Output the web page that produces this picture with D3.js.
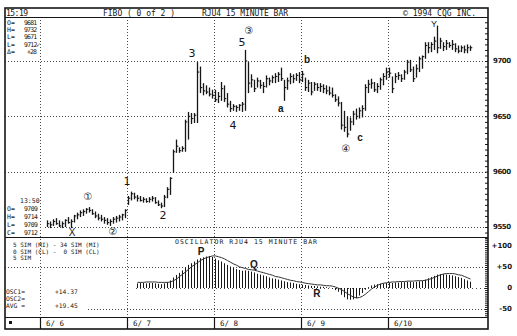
<!DOCTYPE html>
<html>
<head>
<meta charset="utf-8">
<script src="https://cdn.jsdelivr.net/npm/d3@7"></script>
<style>
body { margin: 0; background: #fff; }
svg { display: block; font-family: 'DejaVu Sans Mono', monospace; }
</style>
</head>
<body>
<svg width="517" height="336"></svg>
<script>
// 15 minute bars, 6/6 .. 6/10, first bar sits in slot 2
const firstBar = 2
const highs = [
  9556,9555,9557,9558,9556,9555,9557,9559,9557,9561,9563,9565,9566,9567,9568,9566,9564,9562,9561,9559,9558,9557,9559,9560,9561,9562,9566,
  9578,9582,9581,9579,9578,9577,9576,9577,9578,9577,9574,9572,9579,9586,9595,9620,9629,9622,9623,9647,9654,9653,9653,9699,9695,9680,9678,9676,9674,
  9674,9672,9681,9678,9671,9664,9661,9660,9661,9663,9710,9699,9688,9683,9685,9683,9681,9687,9685,9687,9689,9690,9694,9683,9685,9689,9688,9689,9690,
  9691,9685,9683,9681,9681,9680,9680,9679,9678,9677,9676,9670,9668,9663,9655,9650,9649,9655,9657,9658,9660,9679,9683,9684,9681,9680,9685,9689,9694,
  9694,9686,9689,9690,9688,9692,9701,9701,9695,9697,9704,9705,9717,9717,9717,9722,9732,9721,9717,9719,9717,9719,9716,9714,9714,9714,9715,9714
]
const lows = [
  9550,9549,9551,9552,9550,9549,9550,9553,9549,9554,9557,9559,9560,9562,9563,9561,9558,9556,9555,9553,9552,9551,9553,9554,9555,9556,9558,
  9570,9574,9575,9573,9573,9572,9572,9572,9573,9571,9569,9567,9568,9576,9579,9599,9617,9617,9618,9618,9629,9643,9644,9644,9671,9669,9670,9668,9666,
  9663,9662,9664,9663,9658,9654,9655,9654,9655,9654,9655,9671,9676,9672,9676,9675,9671,9676,9678,9680,9680,9681,9682,9664,9674,9679,9680,9682,9680,
  9681,9673,9672,9669,9673,9673,9672,9671,9670,9669,9667,9663,9659,9638,9636,9631,9637,9642,9647,9648,9649,9655,9671,9675,9672,9671,9674,9678,9683,
  9685,9671,9680,9683,9681,9683,9688,9690,9681,9685,9690,9693,9702,9707,9708,9710,9707,9711,9709,9710,9712,9710,9708,9707,9708,9707,9707,9709
]
const closes = [
  9553,9552,9555,9553,9551,9553,9556,9554,9555,9560,9561,9563,9564,9566,9565,9562,9560,9558,9557,9556,9554,9555,9557,9558,9559,9561,9565,
  9576,9580,9577,9576,9574,9575,9573,9575,9576,9572,9570,9569,9577,9584,9594,9618,9623,9619,9621,9645,9650,9648,9651,9690,9676,9673,9672,9670,9669,
  9665,9668,9675,9666,9661,9657,9659,9658,9660,9661,9700,9680,9683,9675,9682,9678,9677,9684,9682,9685,9686,9688,9684,9676,9682,9686,9684,9687,9683,
  9688,9676,9680,9672,9679,9676,9677,9675,9673,9671,9669,9665,9662,9642,9640,9634,9645,9652,9650,9655,9657,9676,9679,9680,9674,9677,9683,9686,9690,
  9689,9675,9686,9687,9684,9690,9699,9692,9684,9693,9702,9704,9714,9712,9715,9718,9712,9718,9713,9716,9714,9715,9711,9709,9712,9710,9712,9712
]

// oscillator (5 - 34) and its 5 bar average, from slot 32
const oscStart = 32
const osc = [
  11,12,12,11,12,12,11,10,9,11,
  14,18,25,31,36,42,49,55,59,63,
  68,71,73,75,76,74,70,66,63,59,
  55,51,48,45,43,41,42,41,39,37,
  34,32,30,28,25,23,22,20,18,16,
  14,13,12,10,9,8,7,6,5,5,
  4,3,3,2,1,-2,-5,-9,-16,-22,
  -27,-28,-27,-24,-18,-12,-4,2,6,8,
  9,10,11,12,13,12,13,13,14,14,
  15,15,14,15,16,17,20,23,26,29,
  32,33,33,32,31,30,28,26,24,21,
  18,15
]
const oscAvg = [
  11,11,11,12,12,12,12,11,11,11,
  11,12,15,19,25,30,36,42,48,53,
  58,63,67,70,72,74,74,72,70,67,
  63,59,55,52,48,46,44,42,41,40,
  38,36,34,32,30,28,25,24,22,20,
  18,16,15,13,12,11,9,8,7,6,
  5,5,4,3,3,2,0,-3,-6,-11,
  -16,-20,-24,-26,-25,-22,-17,-11,-5,0,
  4,7,9,10,11,12,12,13,13,13,
  14,14,14,15,15,15,16,18,20,23,
  26,29,31,32,32,32,31,29,28,25,
  22,19
]

const days = ['6/ 6', '6/ 7', '6/ 8', '6/ 9', '6/10']
const barsPerDay = 29
const priceTicks = [9550, 9600, 9650, 9700]
const oscTicks = [100, 50, 0, -50]
const oscGrid = [50, -50]

const waveLabels = [
  { t: 'X', i: 10.2, p: 9545 }, { t: '\u2460', i: 15.5, p: 9578 }, { t: '\u2461', i: 23.8, p: 9546 },
  { t: '1', i: 28.5, p: 9591 }, { t: '2', i: 40.5, p: 9561 }, { t: '3', i: 50.2, p: 9707 },
  { t: '4', i: 63.8, p: 9642 }, { t: '5', i: 66.8, p: 9717 }, { t: '\u2462', i: 69.2, p: 9728 },
  { t: 'a', i: 79.8, p: 9657 }, { t: 'b', i: 88.5, p: 9701 }, { t: 'c', i: 106.2, p: 9631 },
  { t: '\u2463', i: 101.5, p: 9621 }, { t: 'Y', i: 130.8, p: 9734 }
]
const oscLabels = [
  { t: 'P', i: 53.2, v: 88 }, { t: 'Q', i: 70.8, v: 57 }, { t: 'R', i: 91.8, v: -12 }
]

const topInfo = [['O=', '9681'], ['H=', '9732'], ['L=', '9671'], ['L=', '9712\u2713'], ['\u0394=', '+28']]
const lastBarInfo = [['O=', '9709'], ['H=', '9714'], ['L=', '9709'], ['C=', '9712']]
const oscInfo = ['5 SIM (MI) - 34 SIM (MI)', '0 SIM (CL) -  0 SIM (CL)', '5 SIM']
const oscValues = [['OSC1=', '+14.37'], ['OSC2=', ''], ['AVG =', '+19.45']]

// frame
const frameL = 5, frameR = 488, frameTop = 8, headBottom = 17, oscTop = 237, dateTop = 317, frameBottom = 329

const svg = d3.select('svg')

const x = d3.scaleLinear().domain([0, barsPerDay * 5]).range([40, 475])
const yPrice = d3.scaleLinear().domain([9550, 9700]).range([227, 61])
const yOsc = d3.scaleLinear().domain([-50, 100]).range([309, 246])

const ink = '#161616'
const dots = '#4a4a4a'

// grid
const grid = svg.append('g')
    .attr('stroke', dots)
    .attr('stroke-width', 1)
    .attr('stroke-dasharray', '1,2')

grid.selectAll('.vgrid')
    .data(days)
    .enter().append('line')
        .attr('x1', (d, k) => Math.round(x(k * barsPerDay)) + .5)
        .attr('x2', (d, k) => Math.round(x(k * barsPerDay)) + .5)
        .attr('y1', headBottom)
        .attr('y2', dateTop)

grid.selectAll('.hgrid')
    .data(priceTicks)
    .enter().append('line')
        .attr('x1', d => d === 9550 ? 45 : frameL)
        .attr('x2', frameR)
        .attr('y1', d => Math.round(yPrice(d)) + .5)
        .attr('y2', d => Math.round(yPrice(d)) + .5)

grid.selectAll('.ogrid')
    .data(oscGrid)
    .enter().append('line')
        .attr('x1', d => d < 0 ? 88 : frameL)
        .attr('x2', frameR)
        .attr('y1', d => Math.round(yOsc(d)) + .5)
        .attr('y2', d => Math.round(yOsc(d)) + .5)

grid.append('line')
    .attr('stroke-dasharray', '1,3')
    .attr('x1', x(oscStart))
    .attr('x2', frameR)
    .attr('y1', Math.round(yOsc(0)) + .5)
    .attr('y2', Math.round(yOsc(0)) + .5)

// price bars
const bars = highs.map((h, k) => ({ i: firstBar + k, h: h, l: lows[k], c: closes[k] }))

const barG = svg.append('g')
    .attr('stroke', ink)
    .attr('stroke-width', 1.3)

barG.selectAll('.hl')
    .data(bars)
    .enter().append('line')
        .attr('x1', d => x(d.i + .5))
        .attr('x2', d => x(d.i + .5))
        .attr('y1', d => yPrice(d.h))
        .attr('y2', d => yPrice(d.l))

barG.selectAll('.cl')
    .data(bars)
    .enter().append('line')
        .attr('stroke-width', 1.1)
        .attr('x1', d => x(d.i + .5))
        .attr('x2', d => x(d.i + .5) + 1.8)
        .attr('y1', d => yPrice(d.c))
        .attr('y2', d => yPrice(d.c))

// oscillator
const oscData = osc.map((v, k) => ({ i: oscStart + k, v: v, a: oscAvg[k] }))

svg.append('g')
    .attr('stroke', ink)
    .attr('stroke-width', 1)
    .selectAll('line')
    .data(oscData)
    .enter().append('line')
        .attr('x1', d => x(d.i + .5))
        .attr('x2', d => x(d.i + .5))
        .attr('y1', yOsc(0))
        .attr('y2', d => yOsc(d.v))

svg.append('path')
    .datum(oscData)
    .attr('fill', 'none')
    .attr('stroke', '#333')
    .attr('stroke-width', 1)
    .attr('d', d3.line().x(d => x(d.i + .5)).y(d => yOsc(d.a) - 1))

// right axes: small ticks inside the border, labels outside
svg.append('g')
    .attr('transform', `translate(${frameR},0)`)
    .call(d3.axisLeft(yPrice).tickValues(d3.range(9540, 9740, 5)).tickSize(3).tickFormat(''))
    .call(g => g.select('.domain').remove())
    .selectAll('line').attr('stroke', ink)

svg.append('g')
    .attr('transform', `translate(${frameR},0)`)
    .call(d3.axisLeft(yOsc).tickValues(d3.range(-65, 120, 5)).tickSize(3).tickFormat(''))
    .call(g => g.select('.domain').remove())
    .selectAll('line').attr('stroke', ink)

svg.append('g')
    .selectAll('text')
    .data(priceTicks)
    .enter().append('text')
        .attr('x', 493)
        .attr('y', d => yPrice(d))
        .attr('dy', '0.35em')
        .attr('font-family', 'DejaVu Sans')
        .attr('font-weight', 'bold')
        .attr('font-size', 7)
        .attr('fill', ink)
        .attr('textLength', 18)
        .text(d => d)

svg.append('g')
    .selectAll('text')
    .data(oscTicks)
    .enter().append('text')
        .attr('x', 512)
        .attr('y', d => yOsc(d))
        .attr('dy', '0.35em')
        .attr('text-anchor', 'end')
        .attr('font-family', 'DejaVu Sans')
        .attr('font-weight', 'bold')
        .attr('font-size', 7)
        .attr('fill', ink)
        .text(d => d > 0 ? '+' + d : d)

// frame lines
const frame = svg.append('g').attr('stroke', ink).attr('fill', 'none')
frame.append('rect')
    .attr('x', frameL).attr('y', frameTop)
    .attr('width', frameR - frameL).attr('height', frameBottom - frameTop)
    .attr('stroke-width', 1.6)
;[headBottom, oscTop, dateTop].forEach(yy => {
    frame.append('line')
        .attr('x1', frameL).attr('x2', frameR)
        .attr('y1', yy + .5).attr('y2', yy + .5)
        .attr('stroke-width', 1.2)
})
frame.selectAll('.sep')
    .data(days)
    .enter().append('line')
        .attr('x1', (d, k) => Math.round(x(k * barsPerDay)) + .5)
        .attr('x2', (d, k) => Math.round(x(k * barsPerDay)) + .5)
        .attr('y1', dateTop)
        .attr('y2', frameBottom)
        .attr('stroke-width', 1.2)

// date row
svg.append('rect')
    .attr('x', 9).attr('y', 321).attr('width', 3).attr('height', 3)
    .attr('fill', ink)

svg.append('g')
    .selectAll('text')
    .data(days)
    .enter().append('text')
        .attr('x', (d, k) => x(k * barsPerDay) + 6)
        .attr('y', 326)
        .attr('font-size', 7.5)
        .attr('fill', ink)
        .text(d => d)

// header
const head = svg.append('g')
    .attr('font-size', 8)
    .attr('fill', ink)
head.append('text').attr('x', 6).attr('y', 16).attr('textLength', 22).text('15:19')
head.append('text').attr('x', 103).attr('y', 16).attr('textLength', 72).text('FIBO ( 0 of 2 )')
head.append('text').attr('x', 202).attr('y', 16).attr('textLength', 86).text('RJU4 15 MINUTE BAR')
head.append('text').attr('x', 403).attr('y', 16).attr('textLength', 73).text('\u00a9 1994 CQG INC.')

// info boxes
const infoTop = svg.append('g').attr('font-size', 6.5).attr('fill', ink)
topInfo.forEach((d, k) => {
    infoTop.append('text').attr('x', 7).attr('y', 25 + k * 7.2).text(d[0])
    infoTop.append('text')
        .attr('x', d[0] === '\u0394=' ? 27 : 24)
        .attr('y', 25 + k * 7.2)
        .attr('textLength', d[1].length * 3.3)
        .text(d[1])
})

const infoLast = svg.append('g').attr('font-size', 6.5).attr('fill', ink)
infoLast.append('text').attr('x', 20).attr('y', 203).text('13:50')
lastBarInfo.forEach((d, k) => {
    infoLast.append('text').attr('x', 7).attr('y', 211 + k * 8).text(d[0])
    infoLast.append('text').attr('x', 24).attr('y', 211 + k * 8).attr('textLength', 14).text(d[1])
})

svg.append('g')
    .selectAll('text')
    .data(oscInfo)
    .enter().append('text')
        .attr('x', 13)
        .attr('y', (d, k) => 247 + k * 6.5)
        .attr('font-size', 6)
        .attr('fill', ink)
        .attr('xml:space', 'preserve')
        .text(d => d)

const oscVal = svg.append('g').attr('font-size', 6.3).attr('fill', ink)
oscValues.forEach((d, k) => {
    const yy = [294, 301, 308][k]
    oscVal.append('text').attr('x', 6).attr('y', yy).text(d[0])
    oscVal.append('text').attr('x', 55).attr('y', yy).text(d[1])
})

svg.append('text')
    .attr('x', 175).attr('y', 244)
    .attr('font-size', 6.5)
    .attr('fill', ink)
    .attr('textLength', 142)
    .text('OSCILLATOR RJU4 15 MINUTE BAR')

// wave annotations
svg.append('g')
    .selectAll('text')
    .data(waveLabels)
    .enter().append('text')
        .attr('x', d => x(d.i + .5))
        .attr('y', d => yPrice(d.p))
        .attr('dy', '0.35em')
        .attr('text-anchor', 'middle')
        .attr('font-family', d => /[abcXY]/.test(d.t) ? 'Liberation Sans' : 'DejaVu Sans')
        .attr('font-weight', d => /[abc]/.test(d.t) ? 'bold' : 'normal')
        .attr('font-size', d => /[1-5]/.test(d.t) ? 11 : (d.t === 'Y' ? 9 : 10))
        .attr('fill', ink)
        .text(d => d.t)

svg.append('g')
    .selectAll('text')
    .data(oscLabels)
    .enter().append('text')
        .attr('x', d => x(d.i + .5))
        .attr('y', d => yOsc(d.v))
        .attr('dy', '0.35em')
        .attr('text-anchor', 'middle')
        .attr('font-family', 'Liberation Sans')
        .attr('font-weight', 'bold')
        .attr('font-size', 10)
        .attr('fill', ink)
        .text(d => d.t)
</script>
</body>
</html>
